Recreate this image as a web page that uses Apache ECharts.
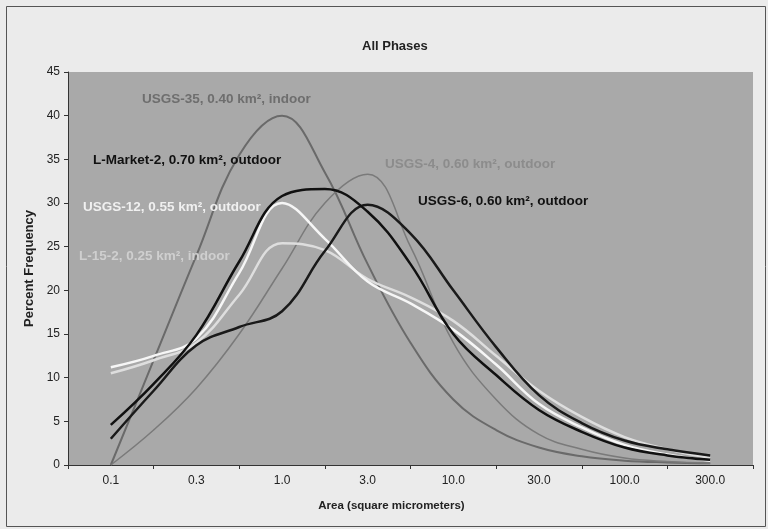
<!DOCTYPE html>
<html>
<head>
<meta charset="utf-8">
<script src="https://cdn.jsdelivr.net/npm/echarts@6/dist/echarts.min.js"></script>
<style>
  html, body { margin: 0; padding: 0; background: #ebebeb; }
  #chart { width: 768px; height: 529px; }
</style>
</head>
<body>
<div id="chart"></div>
<script>
// x categories (area, square micrometers)
var categories = ['0.1', '0.3', '1.0', '3.0', '10.0', '30.0', '100.0', '300.0']

// curves every half category step, from 0.1 to 300.0
var steps = [0, 0.5, 1, 1.5, 2, 2.5, 3, 3.5, 4, 4.5, 5, 5.5, 6, 6.5, 7]
var usgs35 = [0, 12, 24, 35.5, 40, 33.5, 23, 14, 7.5, 4, 2, 1, 0.5, 0.3, 0.2]
var lMarket2 = [4.6, 9.3, 14.9, 23.3, 30.8, 31.6, 29, 23, 15, 10.3, 6.3, 3.8, 2, 1.1, 0.6]
var usgs4 = [0, 4, 8.8, 15, 22.5, 30, 33.3, 25, 14, 7.5, 3.5, 1.8, 0.8, 0.4, 0.2]
var usgs6 = [3, 8.5, 13.7, 15.8, 17.6, 24.5, 29.8, 26.5, 20, 13.5, 8, 4.8, 2.8, 1.8, 1.1]
var usgs12 = [11.2, 12.5, 14.5, 22, 30, 25.9, 21, 18.5, 15.5, 11.5, 7, 4.3, 2.3, 1.2, 0.5]
var l152 = [10.5, 12, 14, 19.5, 25.4, 24.6, 21.3, 19.2, 16.5, 12.5, 8.5, 5.5, 3.2, 1.8, 0.8]

var yTicks = [0, 5, 10, 15, 20, 25, 30, 35, 40, 45]

var myChart = echarts.init(document.getElementById('chart'))

function line(name, values, color, width) {
  return {
    name: name,
    type: 'line',
    xAxisIndex: 1,
    data: values.map(function (v, i) { return [steps[i], v] }),
    smooth: 0.4,
    showSymbol: false,
    lineStyle: { color: color, width: width },
    z: 3
  }
}

// curve labels written inside the plot (x = left edge, y = middle of text)
function label(text, x, y, color) {
  return {
    type: 'text',
    left: x,
    top: y - 8,
    z: 10,
    style: {
      text: text,
      fill: color,
      font: 'bold 13.5px "Liberation Sans", Arial, sans-serif'
    }
  }
}

var option = {
  backgroundColor: '#ebebeb',
  animation: false,
  title: {
    text: 'All Phases',
    left: 357,
    top: 35,
    textStyle: { fontFamily: 'Liberation Sans', fontSize: 13, fontWeight: 'bold', color: '#222' }
  },
  grid: {
    left: 68,
    right: 15,
    top: 72,
    bottom: 64,
    show: true,
    backgroundColor: '#a9a9a9',
    borderWidth: 0
  },
  xAxis: [
    {
      type: 'category',
      data: categories,
      boundaryGap: true,
      name: 'Area (square micrometers)',
      nameLocation: 'middle',
      nameGap: 35,
      nameTextStyle: { fontFamily: 'Liberation Sans', fontSize: 11.5, fontWeight: 'bold', color: '#222', padding: [0, 38, 0, 0] },
      axisLine: { lineStyle: { color: '#333', width: 1 } },
      axisTick: { show: true, length: 4, lineStyle: { color: '#333' } },
      axisLabel: { fontFamily: 'Liberation Sans', fontSize: 12, color: '#222', margin: 10 },
      splitLine: { show: false }
    },
    {
      type: 'value',
      min: -0.5,
      max: 7.5,
      show: false
    }
  ],
  yAxis: {
    type: 'value',
    min: yTicks[0],
    max: yTicks[yTicks.length - 1],
    interval: 5,
    name: 'Percent Frequency',
    nameLocation: 'middle',
    nameGap: 30,
    nameRotate: 90,
    nameTextStyle: { fontFamily: 'Liberation Sans', fontSize: 13, fontWeight: 'bold', color: '#222' },
    axisLine: { show: true, onZero: false, lineStyle: { color: '#333', width: 1 } },
    axisTick: { show: true, length: 4, lineStyle: { color: '#333' } },
    axisLabel: { fontFamily: 'Liberation Sans', fontSize: 12, color: '#222', margin: 8 },
    splitLine: { show: false }
  },
  graphic: [
    {
      type: 'rect',
      left: 4,
      top: 4,
      shape: { width: 759, height: 520 },
      style: { fill: 'none', stroke: '#555', lineWidth: 1 },
      z: -1
    },
    label('USGS-35, 0.40 km², indoor', 142, 100, '#6e6e6e'),
    label('L-Market-2, 0.70 km², outdoor', 93, 161, '#111'),
    label('USGS-4, 0.60 km², outdoor', 385, 165, '#8c8c8c'),
    label('USGS-6, 0.60 km², outdoor', 418, 202, '#111'),
    label('USGS-12, 0.55 km², outdoor', 83, 208, '#f0f0f0'),
    label('L-15-2, 0.25 km², indoor', 79, 257, '#cfcfcf')
  ],
  series: [
    line('USGS-35, 0.40 km², indoor', usgs35, '#6a6a6a', 2),
    line('USGS-4, 0.60 km², outdoor', usgs4, '#7a7a7a', 1.5),
    line('L-15-2, 0.25 km², indoor', l152, '#dedede', 2.5),
    line('USGS-12, 0.55 km², outdoor', usgs12, '#f6f6f6', 2.5),
    line('USGS-6, 0.60 km², outdoor', usgs6, '#1a1a1a', 2.5),
    line('L-Market-2, 0.70 km², outdoor', lMarket2, '#111111', 2.5)
  ]
}

myChart.setOption(option)
</script>
</body>
</html>
